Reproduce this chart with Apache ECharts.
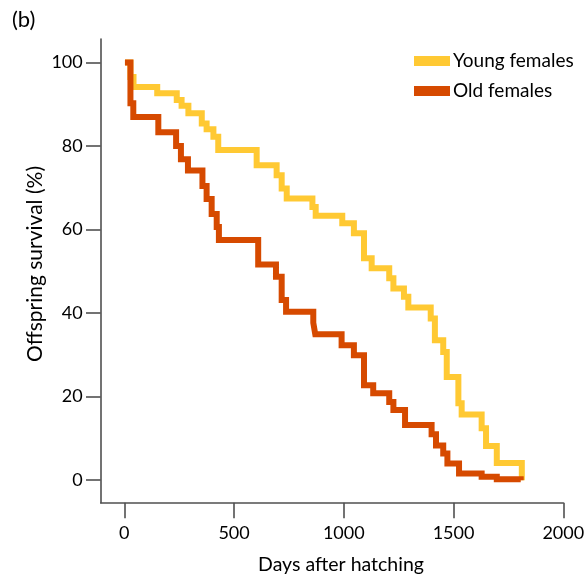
<!DOCTYPE html>
<html><head><meta charset="utf-8">
<script src="https://cdn.jsdelivr.net/npm/echarts@6/dist/echarts.min.js"></script>
<style>html,body{margin:0;padding:0;background:#fff}#c{width:588px;height:585px}</style>
</head><body><div id="c"></div>
<script>
// Kaplan-Meier style step data: [day, survival %]
const youngDays   = [3, 28, 42, 150, 239, 261, 292, 353, 375, 406, 428, 603, 694, 717, 740, 857, 872, 993, 1046, 1092, 1127, 1207, 1226, 1274, 1294, 1396, 1415, 1453, 1469, 1522, 1537, 1628, 1648, 1697, 1811];
const youngValues = [100, 96.5, 94.1, 92.6, 91.0, 89.6, 87.8, 85.4, 84.0, 82.2, 79.0, 75.4, 73.0, 69.8, 67.4, 65.4, 63.3, 61.5, 59.1, 53.1, 50.7, 48.3, 45.9, 43.9, 41.3, 38.7, 33.5, 30.7, 24.7, 18.4, 15.7, 12.4, 8.2, 4.1, 0];
const oldDays   = [3, 28, 41, 155, 236, 258, 290, 356, 375, 398, 421, 431, 610, 691, 717, 737, 861, 870, 990, 1046, 1092, 1134, 1207, 1226, 1279, 1400, 1420, 1453, 1472, 1525, 1628, 1697, 1806];
const oldValues = [100, 90.2, 86.9, 83.3, 80.0, 76.8, 74.1, 70.4, 67.3, 63.7, 60.6, 57.5, 51.6, 48.7, 43.1, 40.3, 37.7, 34.9, 32.3, 29.9, 22.7, 20.8, 18.7, 16.8, 13.2, 11.0, 8.3, 6.4, 4.0, 1.6, 0.8, 0.2, 0];
const xTicks = [0, 500, 1000, 1500, 2000];
const yTicks = [0, 20, 40, 60, 80, 100];
const seriesNames = ['Young females', 'Old females'];
const xName = 'Days after hatching';
const yName = 'Offspring survival (%)';

const FONT = 'Lato';
const axisCol = '#505050';
const txtCol = '#000000';
const chart = echarts.init(document.getElementById('c'), null, {renderer: 'canvas'});
const zip = (a, b) => a.map((v, i) => [v, b[i]]);
chart.setOption({
  animation: false,
  textStyle: {fontFamily: FONT},
  grid: {left: 100.7, right: 24.7, top: 39, bottom: 82.3, containLabel: false},
  graphic: [
    {type: 'text', x: 12, y: 9, style: {text: '(b)', font: '22px ' + FONT, fill: txtCol}},
    {type: 'text', x: 341, y: 565, style: {text: xName, font: '19.5px ' + FONT, fill: txtCol, align: 'center', verticalAlign: 'middle'}},
    {type: 'text', x: 35, y: 264, rotation: Math.PI / 2, style: {text: yName, font: '21px ' + FONT, fill: txtCol, align: 'center', verticalAlign: 'middle'}}
  ],
  legend: {
    orient: 'vertical', left: 414, top: 51, padding: 0, icon: 'rect', itemWidth: 36, itemHeight: 10, itemGap: 10,
    data: seriesNames,
    textStyle: {fontFamily: FONT, fontSize: 19, color: txtCol, lineHeight: 20, padding: [0, 0, 0, -2]}
  },
  xAxis: {
    type: 'value', min: -107.5, max: 2000,
    axisLine: {onZero: false, lineStyle: {color: axisCol, width: 1.6}},
    axisTick: {show: true, length: 15.6, lineStyle: {color: axisCol, width: 1.6}, customValues: xTicks},
    axisLabel: {fontFamily: FONT, fontSize: 18, color: txtCol, margin: 21, customValues: xTicks, formatter: v => String(v)},
    splitLine: {show: false}
  },
  yAxis: {
    type: 'value', min: -5.4, max: 105.6,
    axisLine: {show: true, onZero: false, lineStyle: {color: axisCol, width: 1.6}},
    axisTick: {show: true, length: 14.7, lineStyle: {color: axisCol, width: 1.6}, customValues: yTicks},
    axisLabel: {fontFamily: FONT, fontSize: 18, color: txtCol, margin: 18, customValues: yTicks, formatter: v => String(v)},
    splitLine: {show: false}
  },
  series: [
    {name: seriesNames[0], type: 'line', step: 'end', showSymbol: false, symbol: 'none',
     data: zip(youngDays, youngValues), color: '#FFC933',
     lineStyle: {width: 6, color: '#FFC933', join: 'miter'}},
    {name: seriesNames[1], type: 'line', step: 'end', showSymbol: false, symbol: 'none',
     data: zip(oldDays, oldValues), color: '#D64A00',
     lineStyle: {width: 6, color: '#D64A00', join: 'miter'}}
  ]
});
</script></body></html>
